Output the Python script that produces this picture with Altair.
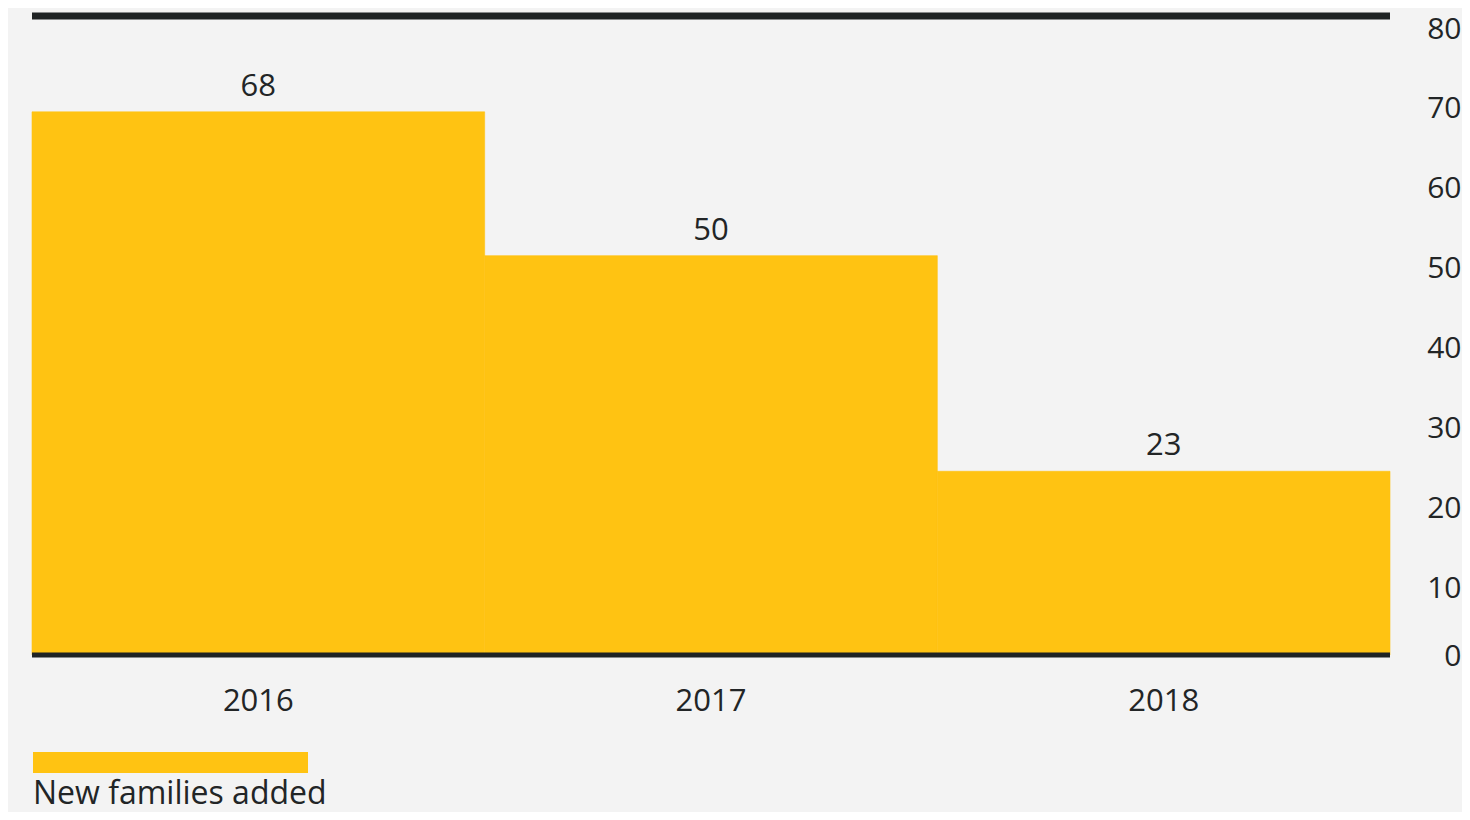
import altair as alt
import pandas as pd

years = ["2016", "2017", "2018"]
values = [68, 50, 23]
series_name = "New families added"
y_ticks = [0, 10, 20, 30, 40, 50, 60, 70, 80]
frame_lines = [0, 80]

FONT = "Open Sans"
TEXT = "#222526"
YELLOW = "#FFC312"
DARK = "#1f2324"
BG = "#f3f3f3"

df = pd.DataFrame({"year": years, "value": values, "series": [series_name] * len(years)})
lines = pd.DataFrame({"v": frame_lines, "w": [5, 7]})

x = alt.X("year:O", title=None, scale=alt.Scale(paddingInner=0, paddingOuter=0),
          axis=alt.Axis(labelAngle=0, domain=False, ticks=False, labelFont=FONT,
                        labelFontSize=31, labelColor=TEXT, labelPadding=46,
                        labelBaseline="middle"))
yscale = alt.Scale(domain=[0, 80], nice=False)

bars = alt.Chart(df).mark_bar(opacity=1, stroke=YELLOW, strokeWidth=0.6).encode(
    x=x,
    y=alt.Y("value:Q", title=None, scale=yscale,
            axis=alt.Axis(orient="right", values=y_ticks, grid=False, domain=False,
                          ticks=False, tickSize=0, labelAlign="right", labelPadding=71,
                          labelBaseline="middle", labelFont=FONT, labelFontSize=30,
                          labelColor=TEXT,
                          labelOffset=alt.condition("datum.value === 0", alt.value(1), alt.value(13)))),
    color=alt.Color("series:N", scale=alt.Scale(range=[YELLOW]),
                    legend=alt.Legend(orient="none", legendX=-31, legendY=762, title=None,
                                      symbolType="M16,-42H291V-21H16Z",
                                      symbolSize=4, symbolStrokeWidth=0,
                                      symbolOpacity=1, symbolOffset=0,
                                      labelOffset=0, labelFont=FONT, labelFontSize=32,
                                      labelColor=TEXT, labelLimit=0, padding=0)),
)

labels = alt.Chart(df).mark_text(font=FONT, fontSize=31, color=TEXT, baseline="alphabetic",
                                 dy=-16).encode(
    x=alt.X("year:O"),
    y=alt.Y("value:Q", scale=yscale),
    text=alt.Text("value:Q"),
)

rules = alt.Chart(lines).mark_rule(color=DARK).encode(
    y=alt.Y("v:Q", scale=yscale),
    strokeWidth=alt.StrokeWidth("w:Q", scale=None, legend=None),
)

chart = alt.layer(bars, labels, rules).properties(
    width=1358, height=639,
    autosize=alt.AutoSizeParams(type="none"),
    padding={"left": 24, "top": 8, "right": 72, "bottom": 157},
    background=BG,
).configure_view(stroke=None, fill=BG)

chart.save("out.html", embed_options={"renderer": "svg", "actions": False})
